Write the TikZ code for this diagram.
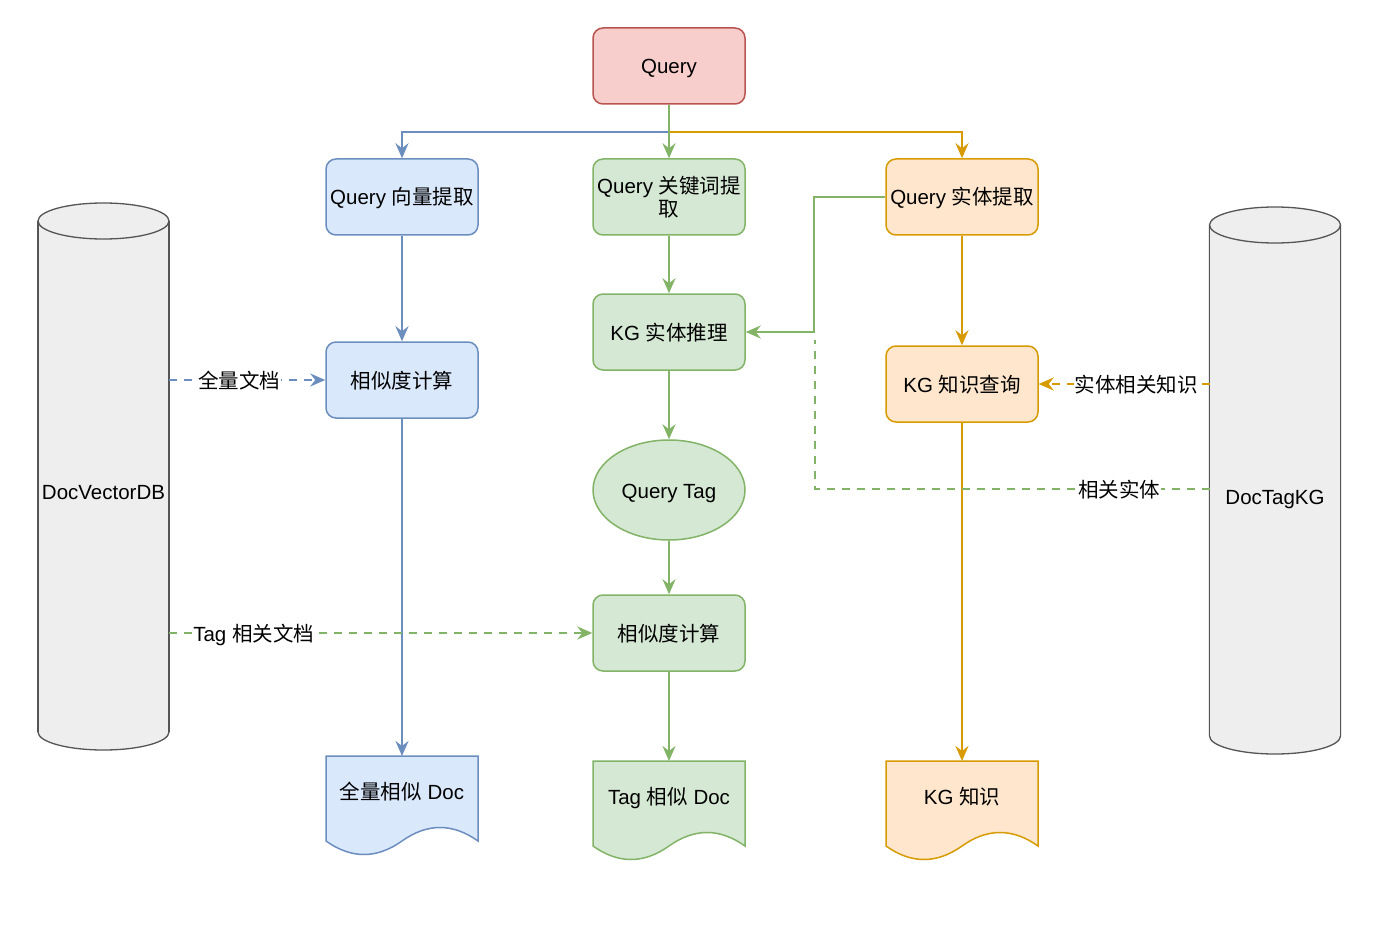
\documentclass[tikz,border=0pt]{standalone}
\usepackage{fontspec}
\setmainfont{Liberation Sans}
\newfontfamily\cjk{Noto Sans CJK SC}
\usetikzlibrary{arrows.meta,shapes.geometric}
\definecolor{blueS}{HTML}{6C8EBF}
\definecolor{blueF}{HTML}{DAE8FC}
\definecolor{greenS}{HTML}{82B366}
\definecolor{greenF}{HTML}{D5E8D4}
\definecolor{orangeS}{HTML}{D79B00}
\definecolor{orangeF}{HTML}{FFE6CC}
\definecolor{redS}{HTML}{B85450}
\definecolor{redF}{HTML}{F8CECC}
\definecolor{grayF}{HTML}{EEEEEE}
\definecolor{grayS}{HTML}{555555}
\tikzset{
  txt/.style={font=\fontsize{20.5}{24}\selectfont, align=center, text=black},
  box/.style={txt, rounded corners=10pt, minimum width=152pt, minimum height=76pt, line width=1.5pt, inner sep=2pt},
  onel/.style={text height=16pt, text depth=0pt},
  bbox/.style={box, onel, draw=blueS, fill=blueF},
  gbox/.style={box, onel, draw=greenS, fill=greenF},
  obox/.style={box, onel, draw=orangeS, fill=orangeF},
  rbox/.style={box, onel, draw=redS, fill=redF},
  conn/.style={line width=2.2pt, -{Stealth[length=15pt,width=13pt,inset=5pt]}},
  dconn/.style={conn, dash pattern=on 8pt off 7pt},
  dline/.style={line width=2.2pt, dash pattern=on 8pt off 7pt},
  lbl/.style={txt, onel, fill=white, inner sep=1pt},
  docshape/.style={line width=1.5pt},
}
\begin{document}
\begin{tikzpicture}[x=1pt,y=-1pt]
\useasboundingbox (0,0) rectangle (1400,936);
\fill[white] (0,0) rectangle (1400,936);

% cylinders
\foreach \cx/\ty/\by in {103.5/221/732, 1275/225/736}{
  \path[fill=grayF, draw=grayS, line width=1.3pt]
    (\cx-65.5,\ty) -- (\cx-65.5,\by) arc[start angle=180, end angle=360, x radius=65.5, y radius=-18] -- (\cx+65.5,\ty);
  \fill[grayF] (\cx-65.5,\ty) rectangle (\cx+65.5,\by);
  \draw[grayS, line width=1.3pt] (\cx-65.5,\ty) -- (\cx-65.5,\by) (\cx+65.5,\ty) -- (\cx+65.5,\by);
  \draw[grayS, fill=grayF, line width=1.3pt] (\cx,\ty) ellipse[x radius=65.5, y radius=18];
}
\node[txt, onel] (dbv) at (103.5,491) {DocVectorDB};
\node[txt, onel] (dbk) at (1275,496) {DocTagKG};
\coordinate (dbvA) at (169,380);
\coordinate (dbvB) at (169,633);
\coordinate (dbkA) at (1210,384);
\coordinate (dbkB) at (1210,489);

% boxes
\node[rbox] (q) at (669,66) {Query};
\node[bbox] (vec) at (402,197) {Query {\cjk 向量提取}};
\node[box, draw=greenS, fill=greenF] (kw) at (669,197) {Query {\cjk 关键词提}\\[-1pt]{\cjk 取}};
\node[obox] (ent) at (962,197) {Query {\cjk 实体提取}};
\node[bbox] (sim1) at (402,380) {\cjk 相似度计算};
\node[gbox] (kgr) at (669,332) {KG {\cjk 实体推理}};
\node[obox] (kgq) at (962,384) {KG {\cjk 知识查询}};
\node[ellipse, draw=greenS, fill=greenF, line width=1.5pt, minimum width=152pt, minimum height=100pt, txt, onel] (tag) at (669,490) {Query Tag};
\node[gbox] (sim2) at (669,633) {\cjk 相似度计算};

% document shapes
\foreach \x/\y/\f/\s in {326/756/blueF/blueS, 593/761/greenF/greenS, 886/761/orangeF/orangeS}{
  \path[docshape, fill=\f, draw=\s] (\x,\y) -- (\x+152,\y) -- (\x+152,\y+85)
    .. controls (\x+126.7,\y+67) and (\x+101.3,\y+67) .. (\x+76,\y+85)
    .. controls (\x+50.7,\y+103) and (\x+25.3,\y+103) .. (\x,\y+85) -- cycle;
}
\node[txt, onel, minimum width=152pt] (d1) at (402,791) {{\cjk 全量相似} Doc};
\node[txt, onel, minimum width=152pt] (d2) at (669,796) {Tag {\cjk 相似} Doc};
\node[txt, onel, minimum width=152pt] (d3) at (962,796) {KG {\cjk 知识}};
\coordinate (d1t) at (402,756);
\coordinate (d2t) at (669,761);
\coordinate (d3t) at (962,761);

% top branches
\draw[conn, blueS] (q.south) -- ++(0,27) -| (vec.north);
\draw[conn, orangeS] (q.south) -- ++(0,27) -| (ent.north);
\draw[conn, greenS] (q.south) -- (kw.north);

% blue column
\draw[conn, blueS] (vec.south) -- (sim1.north);
\draw[conn, blueS] (sim1.south) -- (d1t);

% green column
\draw[conn, greenS] (kw.south) -- (kgr.north);
\draw[conn, greenS] (kgr.south) -- (tag.north);
\draw[conn, greenS] (tag.south) -- (sim2.north);
\draw[conn, greenS] (sim2.south) -- (d2t);

% orange column
\draw[conn, orangeS] (ent.south) -- (kgq.north);
\draw[conn, orangeS] (kgq.south) -- (d3t);

% entity extraction -> KG reasoning
\coordinate (jn) at (815,489);
\draw[dline, greenS] (dbkB) -- node[lbl, pos=0.23] {\cjk 相关实体} (jn) -- (815,340);
\draw[conn, greenS] (ent.west) -- ++(-71,0) |- (kgr.east);

% dashed data links
\draw[dconn, blueS] (dbvA) -- node[lbl, pos=0.45] {\cjk 全量文档} (sim1.west);
\draw[dconn, greenS] (dbvB) -- node[lbl, pos=0.2] {Tag {\cjk 相关文档}} (sim2.west);
\draw[dconn, orangeS] (dbkA) -- node[lbl, pos=0.43] {\cjk 实体相关知识} (kgq.east);
\end{tikzpicture}
\end{document}
